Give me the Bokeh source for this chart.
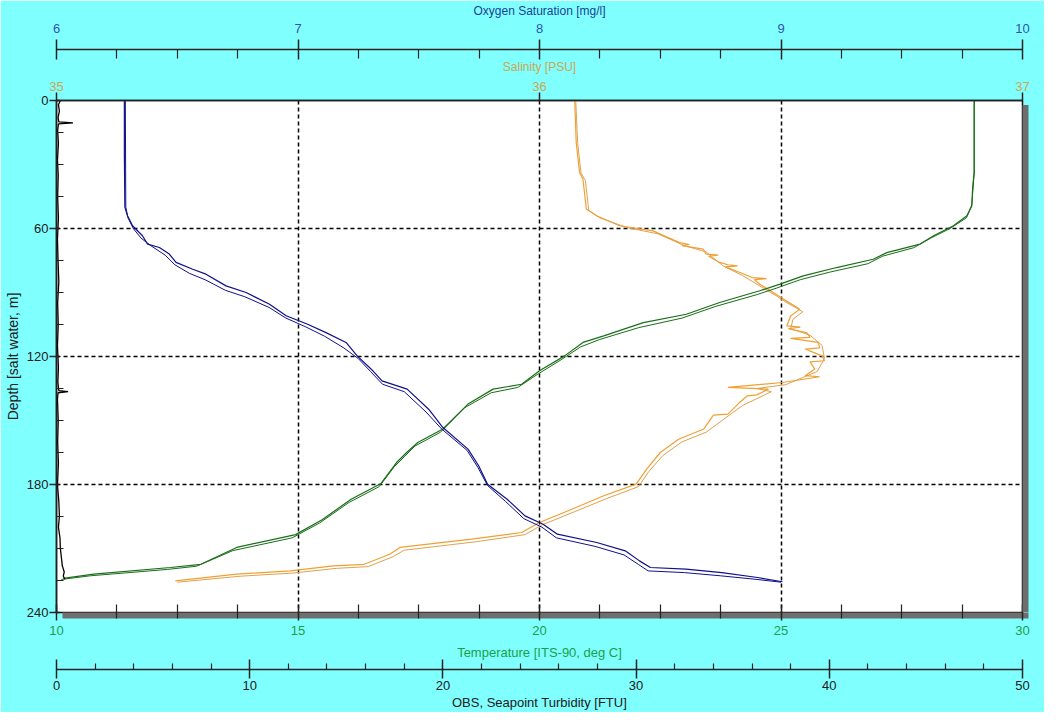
from bokeh.plotting import figure
from bokeh.models import Range1d, LinearAxis, FixedTicker
from bokeh.embed import file_html
from bokeh.resources import INLINE

# ---------------- data ----------------
# Oxygen saturation [mg/l], two casts
oxy_depth_a = [0, 25, 50, 54, 58.7, 63.4, 67.3, 68.9, 72, 75.9, 79.1, 81.4, 86.9, 90, 95.5, 100.9,
               104.9, 108.8, 113.4, 119.7, 126.7, 131.4, 135.3, 144.7, 153.3, 163.4, 171.2, 179.9,
               186.9, 194.7, 198.6, 203.3, 207.2, 211.1, 215.8, 218.9, 219.7, 221.3, 223.6, 225.6]
oxy_val_a = [6.281, 6.281, 6.283, 6.294, 6.315, 6.356, 6.377, 6.426, 6.467, 6.495, 6.564, 6.619, 6.702,
             6.785, 6.882, 6.951, 7.04, 7.116, 7.199, 7.245, 7.31, 7.348, 7.452, 7.541, 7.60, 7.704,
             7.748, 7.785, 7.866, 7.94, 8.015, 8.074, 8.237, 8.355, 8.414, 8.459, 8.607, 8.755, 8.903, 9.006]
oxy_depth_b = [0, 50, 55, 60, 64.5, 68, 72.5, 77, 81, 84, 89, 92, 97, 102, 106, 110.5, 116, 121, 127,
               133, 136.5, 146, 154, 164, 172, 180.5, 188, 196, 200, 205, 209, 213, 217.5, 220.5,
               221.3, 222.8, 224.5, 225.8]
oxy_val_b = [6.285, 6.287, 6.296, 6.318, 6.35, 6.39, 6.45, 6.49, 6.55, 6.615, 6.70, 6.78, 6.88, 6.95,
             7.03, 7.11, 7.19, 7.25, 7.30, 7.35, 7.44, 7.53, 7.595, 7.70, 7.745, 7.785, 7.86, 7.935,
             8.01, 8.07, 8.23, 8.35, 8.41, 8.45, 8.60, 8.75, 8.90, 9.0]

# Salinity [PSU], two casts
sal_depth_a = [0, 19.7, 33.8, 36.9, 50.9, 54, 58.7, 61.1, 66.6, 67.5, 68, 69.7, 72, 72.5, 73, 75.9,
               77, 77.5, 78, 80.6, 83, 83.5, 84, 86.1, 90, 93.1, 97.8, 101, 105.6, 106.2, 107, 108.8,
               111, 111.5, 113.4, 116, 116.5, 119.7, 122, 122.5, 125.9, 129, 129.5, 132.2, 134.5,
               135.3, 138, 138.5, 141.6, 147, 147.5, 154, 158.8, 165, 172.8, 179.8, 185.3, 191.6,
               197.8, 202.5, 205.6, 209.5, 212.7, 217.4, 218.1, 220.5, 222, 225.2]
sal_val_a = [36.073, 36.076, 36.083, 36.09, 36.097, 36.118, 36.166, 36.235, 36.29, 36.31, 36.295,
             36.339, 36.345, 36.37, 36.35, 36.373, 36.39, 36.41, 36.385, 36.415, 36.44, 36.47, 36.445,
             36.456, 36.484, 36.505, 36.539, 36.52, 36.512, 36.54, 36.515, 36.553, 36.56, 36.52,
             36.577, 36.58, 36.55, 36.585, 36.59, 36.56, 36.57, 36.55, 36.58, 36.503, 36.39, 36.474,
             36.45, 36.43, 36.414, 36.39, 36.36, 36.34, 36.288, 36.25, 36.222, 36.2, 36.133, 36.067,
             36.0, 35.963, 35.859, 35.711, 35.69, 35.637, 35.573, 35.484, 35.373, 35.246]
sal_depth_b = [0, 20, 34, 37.5, 51.5, 55, 59.5, 62.5, 68, 71, 77.5, 82, 87.5, 91.5, 94.5, 99, 102.5,
               107, 110, 114.8, 121, 127, 133.2, 135, 136.5, 143, 155.5, 160, 166.5, 174, 181, 186.5,
               193, 199, 203.5, 206.8, 210.8, 214, 218.5, 219.3, 221.5, 223, 225.8]
sal_val_b = [36.075, 36.079, 36.086, 36.095, 36.102, 36.125, 36.18, 36.245, 36.30, 36.345, 36.38,
             36.42, 36.46, 36.49, 36.51, 36.545, 36.525, 36.52, 36.56, 36.585, 36.59, 36.575, 36.51,
             36.45, 36.48, 36.42, 36.345, 36.295, 36.255, 36.226, 36.205, 36.14, 36.07, 36.005, 35.97,
             35.87, 35.72, 35.695, 35.645, 35.58, 35.49, 35.38, 35.25]

# Temperature [ITS-90, deg C], two casts
tmp_depth_a = [0, 33.8, 40, 49.4, 54, 58.7, 63.4, 67.3, 71.3, 74.4, 78.3, 82.2, 86.1, 89.2, 94.7,
               100.2, 104.1, 110.3, 113.4, 119.7, 126.7, 133, 135.3, 142.3, 154, 160.3, 165, 169.7,
               179.5, 186.9, 196.5, 203.5, 209.5, 217.4, 218.9, 222, 224]
tmp_val_a = [29.0, 29.0, 28.97, 28.95, 28.85, 28.57, 28.16, 27.88, 27.19, 26.91, 26.15, 25.46, 24.98,
             24.56, 23.73, 23.04, 22.15, 21.33, 20.9, 20.52, 20.0, 19.63, 19.04, 18.52, 18.0, 17.48,
             17.25, 17.04, 16.72, 16.1, 15.5, 14.95, 13.73, 12.99, 12.36, 10.77, 10.14]
tmp_depth_b = [0, 34, 49, 55, 60, 64.5, 69, 73, 76.5, 80.5, 84, 88, 91, 96.5, 102, 106.5, 112, 115.5,
               121.5, 128.5, 134.5, 137, 144, 155.5, 162, 167, 171.5, 181, 188.5, 198, 205, 211,
               218.3, 219.8, 222.8, 224.5]
tmp_val_b = [29.0, 29.0, 28.95, 28.84, 28.5, 28.1, 27.75, 27.1, 26.8, 26.0, 25.4, 24.9, 24.5, 23.65,
             22.95, 22.05, 21.25, 20.85, 20.45, 19.95, 19.55, 19.0, 18.45, 17.95, 17.42, 17.2, 17.0,
             16.68, 16.05, 15.45, 14.88, 13.65, 12.9, 12.3, 10.7, 10.1]

# OBS, Seapoint turbidity [FTU]
turb_depth = [0, 2, 5, 8, 10, 10.5, 11, 14, 20, 28, 35, 45, 55, 65, 75, 85, 95, 105, 115, 125, 132,
              136, 136.5, 137, 140, 150, 160, 170, 180, 188, 195, 200, 205, 210, 214, 218, 221, 223, 224.5]
turb_val = [0.2, 0.1, 0.15, 0.08, 0.12, 0.85, 0.1, 0.06, 0.1, 0.05, 0.09, 0.06, 0.1, 0.05, 0.08, 0.12,
            0.06, 0.09, 0.05, 0.1, 0.07, 0.12, 0.6, 0.08, 0.05, 0.09, 0.06, 0.1, 0.05, 0.12, 0.15, 0.1,
            0.18, 0.2, 0.25, 0.3, 0.4, 0.35, 0.45]

# tick values
tmp_major = [10, 15, 20, 25, 30]
tmp_minor = [11.25, 12.5, 13.75, 16.25, 17.5, 18.75, 21.25, 22.5, 23.75, 26.25, 27.5, 28.75]
depth_major = [0, 60, 120, 180, 240]
depth_minor = [15, 30, 45, 75, 90, 105, 135, 150, 165, 195, 210, 225]
oxy_major = [6, 7, 8, 9, 10]
oxy_minor = [6.25, 6.5, 6.75, 7.25, 7.5, 7.75, 8.25, 8.5, 8.75, 9.25, 9.5, 9.75]
sal_major = [35, 36, 37]
turb_major = [0, 10, 20, 30, 40, 50]
turb_minor = [2, 4, 6, 8, 12, 14, 16, 18, 22, 24, 26, 28, 32, 34, 36, 38, 42, 44, 46, 48]

# ---------------- styling ----------------
FONT = "Liberation Sans"
CYAN = "#80FFFF"
SHADOW = "#6e6e6e"
C_OXY_LAB = "#2f56b0"
C_OXY_TITLE = "#1d3f96"
C_SAL_LAB = "#c9a752"
C_TMP_LAB = "#18a04a"
C_DARK = "#202020"
C_BLUE = "#10108c"
C_GREEN = "#1a6e1a"
C_ORANGE = "#f0a030"

p = figure(width=1044, height=712, output_backend="svg", toolbar_location=None,
           x_range=Range1d(10, 30), y_range=Range1d(240, 0),
           min_border_left=56, min_border_right=22, min_border_top=100, min_border_bottom=100,
           background_fill_color="white", border_fill_color=CYAN,
           outline_line_color="#111111", outline_line_width=1.5)

p.extra_x_ranges = {"sal": Range1d(35, 37), "ox": Range1d(6, 10), "turb": Range1d(0, 50)}


def style_axis(ax, lab_color, title_color, fs="13px", tfs="13px"):
    ax.axis_line_color = "#222222"
    ax.axis_line_width = 1.5
    ax.major_tick_line_color = "#222222"
    ax.major_tick_line_width = 1.5
    ax.minor_tick_line_color = "#222222"
    ax.minor_tick_line_width = 1.2
    ax.major_label_text_font = FONT
    ax.major_label_text_font_size = fs
    ax.major_label_text_color = lab_color
    ax.axis_label_text_font = FONT
    ax.axis_label_text_font_size = tfs
    ax.axis_label_text_font_style = "normal"
    ax.axis_label_text_color = title_color


def band(tick_at, size, color, width=1.0, **kw):
    # an axis with a single, unlabeled tick: used as a blank band or as the frame's shadow
    return LinearAxis(ticker=FixedTicker(ticks=[tick_at], minor_ticks=[]),
                      axis_line_color=None, major_tick_line_color=color,
                      major_tick_line_width=width, minor_tick_line_color=None,
                      major_tick_in=0, major_tick_out=size, major_label_standoff=0,
                      major_label_text_color=None, major_label_text_font_size="1px", **kw)


# Temperature axis (primary, below; sits under the shadow band)
xa = p.xaxis[0]
xa.ticker = FixedTicker(ticks=tmp_major, minor_ticks=tmp_minor)
xa.axis_label = "Temperature [ITS-90, deg C]"
style_axis(xa, C_TMP_LAB, C_TMP_LAB)
xa.axis_line_color = None
xa.major_tick_in, xa.major_tick_out = 14, 2
xa.minor_tick_in, xa.minor_tick_out = 14, 0
xa.major_label_standoff = 5
xa.axis_label_standoff = 7

# Depth axis (left)
ya = p.yaxis[0]
ya.ticker = FixedTicker(ticks=depth_major, minor_ticks=depth_minor)
ya.axis_label = "Depth [salt water, m]"
style_axis(ya, C_DARK, C_DARK, tfs="14px")
ya.major_tick_in, ya.major_tick_out = 3, 7
ya.minor_tick_in, ya.minor_tick_out = 7, 0
ya.major_label_standoff = 1
ya.axis_label_standoff = 3

# Salinity axis (above, next to the frame)
sal_ax = LinearAxis(x_range_name="sal", axis_label="Salinity [PSU]",
                    ticker=FixedTicker(ticks=sal_major, minor_ticks=[]))
style_axis(sal_ax, C_SAL_LAB, C_SAL_LAB, tfs="12px")
sal_ax.major_tick_in, sal_ax.major_tick_out = 0, 8
sal_ax.minor_tick_in, sal_ax.minor_tick_out = 0, 0
sal_ax.major_label_standoff = 2
sal_ax.axis_label_standoff = 5
p.add_layout(sal_ax, "above")

# blank band between salinity and oxygen axes
p.add_layout(band(35.05, 7, CYAN, x_range_name="sal"), "above")

# Oxygen axis (above, outer)
ox_ax = LinearAxis(x_range_name="ox", axis_label="Oxygen Saturation [mg/l]",
                   ticker=FixedTicker(ticks=oxy_major, minor_ticks=oxy_minor))
style_axis(ox_ax, C_OXY_LAB, C_OXY_TITLE, tfs="12px")
ox_ax.major_tick_in, ox_ax.major_tick_out = 10, 10
ox_ax.minor_tick_in, ox_ax.minor_tick_out = 9, 0
ox_ax.major_label_standoff = 7
ox_ax.axis_label_standoff = 3
p.add_layout(ox_ax, "above")

# blank band between temperature and turbidity axes
p.add_layout(band(1.0, 7, CYAN, x_range_name="turb"), "below")

# Turbidity axis (below, outer)
tu_ax = LinearAxis(x_range_name="turb", axis_label="OBS, Seapoint Turbidity [FTU]",
                   ticker=FixedTicker(ticks=turb_major, minor_ticks=turb_minor))
style_axis(tu_ax, C_DARK, C_DARK)
tu_ax.major_tick_in, tu_ax.major_tick_out = 10, 9
tu_ax.minor_tick_in, tu_ax.minor_tick_out = 6, 0
tu_ax.major_label_standoff = 2
tu_ax.axis_label_standoff = 2
p.add_layout(tu_ax, "below")

# drop shadow of the frame: one very wide tick on each side
shadow_bottom = band(20.114, 6, SHADOW, width=966)
p.below = [shadow_bottom] + list(p.below)
p.add_layout(band(121.17, 6, SHADOW, width=507), "right")

# grid
p.xgrid.ticker = FixedTicker(ticks=[15, 20, 25])
p.ygrid.ticker = FixedTicker(ticks=[60, 120, 180])
for g in (p.xgrid[0], p.ygrid[0]):
    g.grid_line_color = "black"
    g.grid_line_dash = "4 3"
    g.grid_line_width = 1.5

# curves
p.line(sal_val_a, sal_depth_a, x_range_name="sal", line_color=C_ORANGE, line_width=1.2)
p.line(sal_val_b, sal_depth_b, x_range_name="sal", line_color="#e0a050", line_width=1.0)
p.line(tmp_val_a, tmp_depth_a, line_color=C_GREEN, line_width=1.2)
p.line(tmp_val_b, tmp_depth_b, line_color=C_GREEN, line_width=1.0)
p.line(oxy_val_a, oxy_depth_a, x_range_name="ox", line_color=C_BLUE, line_width=1.2)
p.line(oxy_val_b, oxy_depth_b, x_range_name="ox", line_color=C_BLUE, line_width=1.0)
p.line(turb_val, turb_depth, x_range_name="turb", line_color="black", line_width=1.3)

open("out.html", "w").write(file_html(p, INLINE))
